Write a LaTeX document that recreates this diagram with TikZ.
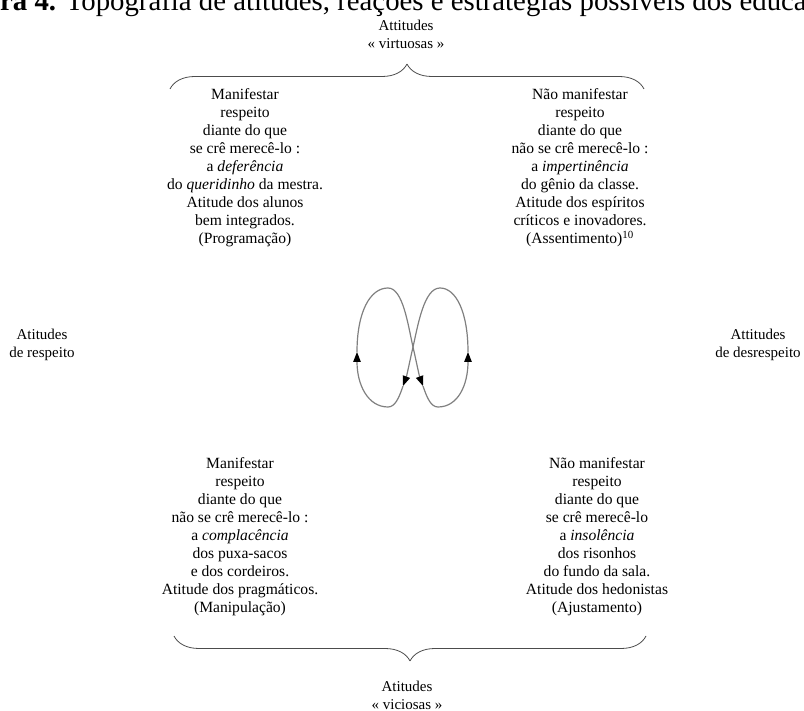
\documentclass[tikz,border=0pt]{standalone}
\usepackage{fontspec}
\setmainfont{Liberation Serif}
\usetikzlibrary{arrows.meta,decorations.pathreplacing}

\begin{document}
\begin{tikzpicture}[>=latex,line join=bevel,
  txt/.style={align=center,inner sep=0pt,anchor=north,font=\fontsize{15.6bp}{18bp}\selectfont},
  lbl/.style={txt,font=\fontsize{15bp}{18bp}\selectfont},
  brc/.style={draw=black!70,line width=0.8bp,decorate,decoration={brace,amplitude=25bp}},
  loopseg/.style={draw=gray,line width=1.2bp,-{Triangle[length=10bp,width=7.5bp,color=black]}},
]
%%
\useasboundingbox (0bp,0bp) rectangle (804bp,711bp);
\clip (0bp,0bp) rectangle (804bp,711bp);
%
\node (cap_0) at (0bp,700bp) [anchor=base west,inner sep=0pt,font=\fontsize{28.8bp}{30bp}\selectfont] {\textbf{ra 4.} Topografia de atitudes, reações e estratégias possíveis dos educa};
\node (top_lbl) at (406bp,691bp) [lbl] {Attitudes\\« virtuosas »};
\coordinate (brace_0a) at (170bp,622bp);
\coordinate (brace_0b) at (644bp,622bp);
\draw [brc] (brace_0a) -- (brace_0b);
%
\node (node_0) at (245bp,622.5bp) [txt] {Manifestar\\respeito\\diante do que\\se crê merecê-lo :\\a \textit{deferência}\\do \textit{queridinho} da mestra.\\Atitude dos alunos\\bem integrados.\\(Programação)};
  \node (node_1) at (580bp,622.5bp) [txt] {Não manifestar\\respeito\\diante do que\\não se crê merecê-lo :\\a \textit{impertinência}\\do gênio da classe.\\Atitude dos espíritos\\críticos e inovadores.\\(Assentimento)\textsuperscript{10}};
\node (lbl_l) at (42bp,382.5bp) [lbl] {Atitudes\\de respeito};
  \node (lbl_r) at (758bp,382.5bp) [lbl] {Attitudes\\de desrespeito};
%
\coordinate (loop_lp) at (357bp,359bp);
\coordinate (loop_lt) at (388bp,423bp);
\coordinate (loop_x) at (413bp,364bp);
\coordinate (loop_mr) at (423bp,325bp);
\coordinate (loop_rb) at (438bp,304bp);
\coordinate (loop_rp) at (468bp,359bp);
\coordinate (loop_rt) at (440bp,423bp);
\coordinate (loop_ml) at (403bp,325bp);
\coordinate (loop_lb) at (388bp,304bp);
\draw [loopseg] (loop_lp) ..controls (357bp,399bp) and (370bp,423bp) .. (loop_lt) ..controls (403bp,423bp) and (408bp,386bp) .. (loop_x) ..controls (416bp,351bp) and (419bp,336bp) .. (loop_mr);
\draw [loopseg] (loop_mr) ..controls (427bp,313bp) and (431bp,304bp) .. (loop_rb) ..controls (458bp,304bp) and (468bp,326bp) .. (loop_rp);
\draw [loopseg] (loop_rp) ..controls (468bp,399bp) and (456bp,423bp) .. (loop_rt) ..controls (424bp,423bp) and (418bp,386bp) .. (loop_x) ..controls (410bp,351bp) and (407bp,336bp) .. (loop_ml);
\draw [loopseg] (loop_ml) ..controls (399bp,313bp) and (395bp,304bp) .. (loop_lb) ..controls (368bp,304bp) and (357bp,326bp) .. (loop_lp);
%
\node (node_2) at (240bp,253.5bp) [txt] {Manifestar\\respeito\\diante do que\\não se crê merecê-lo :\\a \textit{complacência}\\dos puxa-sacos\\e dos cordeiros.\\Atitude dos pragmáticos.\\(Manipulação)};
  \node (node_3) at (597bp,253.5bp) [txt] {Não manifestar\\respeito\\diante do que\\se crê merecê-lo\\a \textit{insolência}\\dos risonhos\\do fundo da sala.\\Atitude dos hedonistas\\(Ajustamento)};
\coordinate (brace_1a) at (646bp,75bp);
\coordinate (brace_1b) at (174bp,75bp);
\draw [brc] (brace_1a) -- (brace_1b);
\node (bot_lbl) at (407bp,30.5bp) [lbl] {Atitudes\\« viciosas »};
%
\end{tikzpicture}
\end{document}
